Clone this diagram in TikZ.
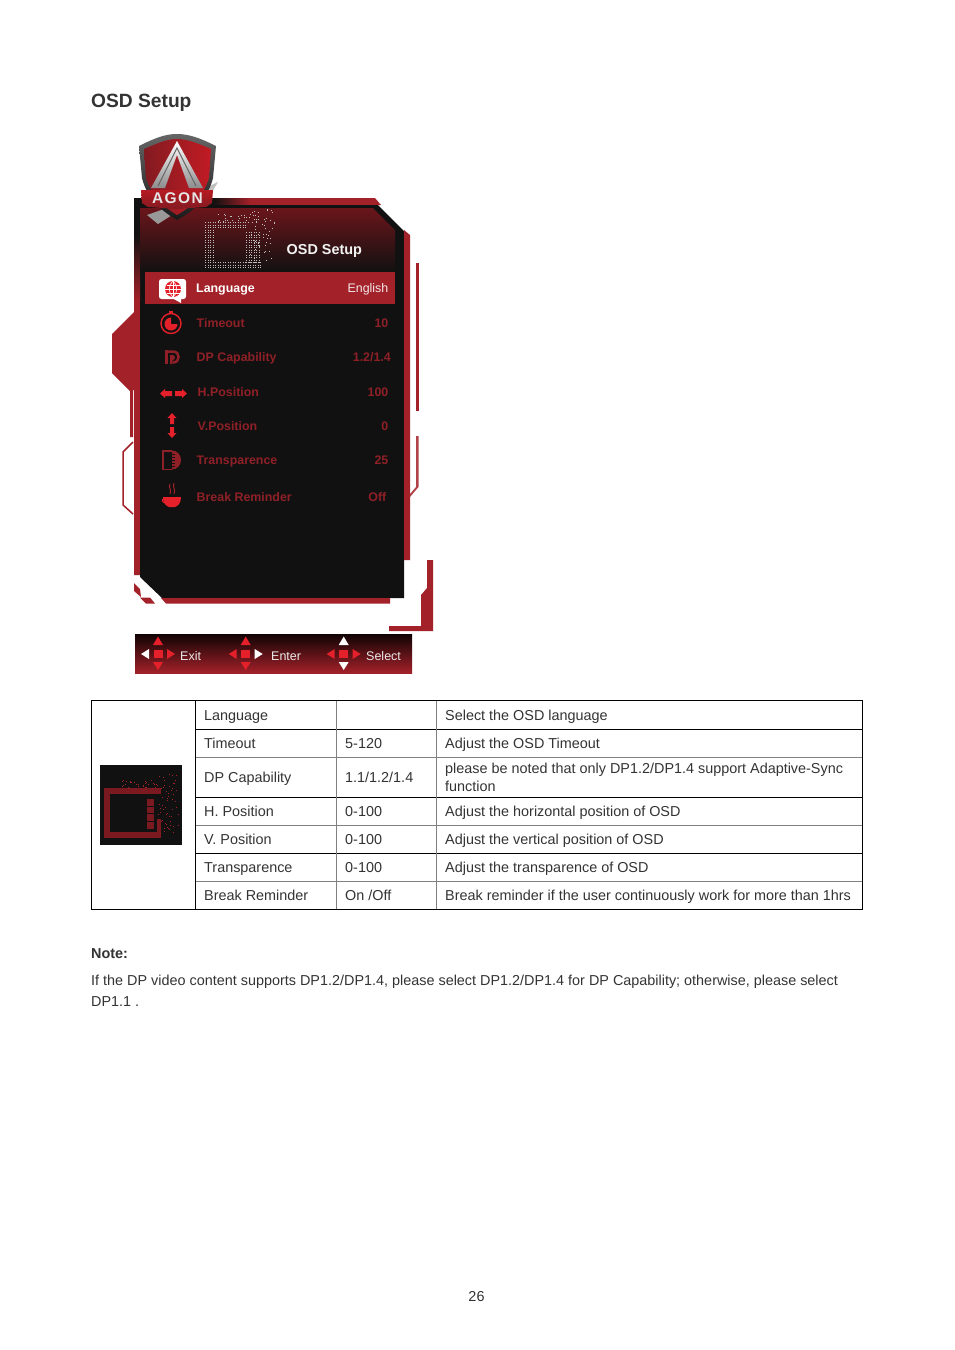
\documentclass[tikz,border=0pt]{standalone}
\usepackage{fontspec}
\setmainfont{Liberation Sans}
\newfontfamily\agonfont[LetterSpace=9]{Liberation Sans}
\usepackage{color}

\definecolor{osdred}{HTML}{A32129}
\definecolor{osdblack}{HTML}{111111}
\definecolor{menured}{HTML}{8F2027}
\definecolor{iconred}{HTML}{E4202A}
\definecolor{texgray}{HTML}{333333}

\tikzset{
  bodytext/.style={anchor=base west,inner sep=0pt,text=texgray,font=\fontsize{14.4}{17}\selectfont},
  titletext/.style={anchor=base west,inner sep=0pt,text=texgray,font=\fontsize{19.2}{22}\selectfont\bfseries},
  notetext/.style={anchor=base west,inner sep=0pt,text=texgray,font=\fontsize{14.4}{17}\selectfont\bfseries},
  menuitem/.style={anchor=base west,inner sep=0pt,text=menured,font=\fontsize{12.4}{14}\selectfont\bfseries},
  menuvalue/.style={anchor=base east,inner sep=0pt,text=menured,font=\fontsize{12.4}{14}\selectfont\bfseries},
  keytext/.style={anchor=base west,inner sep=0pt,text=white!92!black,font=\fontsize{12.5}{15}\selectfont},
  tableline/.style={draw=black,line width=0.9pt},
  tablegray/.style={draw=gray,line width=0.9pt},
}

% block of small square dots
\newcommand{\dotblock}[7]{%
  \foreach \dx in {#1,\the\numexpr#1+#5\relax,...,#3}
    \foreach \dy in {#2,\the\numexpr#2+#5\relax,...,#4}
      \fill[#6] (\dx*0.1,\dy*0.1) rectangle ++(#7,#7);
}

% four arrow keys round a square
\newcommand{\keypad}[5]{%
  \fill[iconred] (#1-4.5,#2-4.5) rectangle (#1+4.5,#2+4);
  \fill[#3] (#1,#2-17.5) -- (#1+5,#2-9) -- (#1-5,#2-9) -- cycle;
  \fill[#3] (#1,#2+16) -- (#1+5,#2+8) -- (#1-5,#2+8) -- cycle;
  \fill[#4] (#1-17,#2) -- (#1-9,#2-5) -- (#1-9,#2+5) -- cycle;
  \fill[#5] (#1+17,#2) -- (#1+9,#2-5) -- (#1+9,#2+5) -- cycle;
}

\begin{document}
\begin{tikzpicture}[x=1pt,y=-1pt]
  \useasboundingbox (0,0) rectangle (954,1350);

  \draw (91,107) node[titletext] (title) {OSD Setup};

  % frame round the menu
  \fill[osdred] (134,312) -- (112,334) -- (112,373) -- (130,391) -- (130,437) -- (133,437) -- (133,390) -- (134,390) -- cycle;
  \draw[osdred,line width=1.5pt] (133,442) -- (123,452) -- (123,505) -- (133,514);
  \fill[osdred] (416,263) rectangle (419,411);
  \fill[osdred!85!white] (416,436) -- (418.5,436) -- (418.5,487) -- (410,497) -- (410,494) -- (416,487) -- cycle;
  \fill[osdred] (427,560) -- (433,560) -- (433,631) -- (389,631) -- (389,626) -- (421,626) -- (421,595) -- (427,588) -- cycle;
  \fill[osdred] (250,198) -- (375,198) -- (381,205) -- (250,205) -- cycle;
  \shade[left color=osdblack,right color=osdred] (213,198) rectangle (250,205);
  \fill[osdblack] (134,198) -- (213,198) -- (213,205) -- (378,205) -- (404,231) -- (404,598) -- (162,598) -- (140,577) -- (140,575) -- (134,575) -- cycle;
  \shade[top color=osdblack,bottom color=osdred] (134,235) rectangle (140,300);
  \fill[osdred] (134,300) rectangle (140,575);
  \fill[osdred] (404,230) -- (410,235) -- (410,560) -- (404,560) -- cycle;
  \fill[osdred] (161,598) -- (390,598) -- (390,603.5) -- (166,603.5) -- cycle;
  \fill[osdred] (134,583) -- (140,589) -- (141,597) -- (134,591) -- cycle;
  \fill[osdred] (140,597.5) -- (150,597.5) -- (155,603.5) -- (146,603.5) -- cycle;
  \shade[top color=osdred!65!black,bottom color=osdblack] (140,208) -- (373,208) -- (395,230) -- (395,272) -- (140,272) -- cycle;
  \fill[osdred] (145,272) rectangle (395,304);

  % shield
  \fill[black!25] (207,187) -- (218,182) -- (212,192) -- cycle;
  \fill[black!40] (147,215) -- (167,208) -- (172,215) -- (158,224) -- cycle;
  \shade[top color=black!60,bottom color=black!90] (139,146) .. controls (155,138) and (165,134) .. (177,134) .. controls (189,134) and (200,138) .. (216,146) -- (213,178) .. controls (208,198) and (195,210) .. (177,220) .. controls (160,210) and (147,198) .. (142,178) -- cycle;
  \shade[left color=osdred!80!black,right color=iconred!85!black] (144,149) .. controls (158,143) and (167,139) .. (177,139) .. controls (187,139) and (197,143) .. (211,149) -- (209,178) .. controls (204,194) and (193,206) .. (177,215) .. controls (162,206) and (151,194) .. (146,178) -- cycle;
  \shade[top color=white,bottom color=black!45] (177,141) -- (203,188) -- (189,188) -- (177,155) -- (165,188) -- (151,188) -- cycle;
  \draw[black!60,line width=1pt] (158,186) -- (177,148) -- (196,186);
  \shade[top color=iconred!80!black,bottom color=osdred!80!black] (141,190) -- (213,190) -- (212,203) -- (206,207) -- (177,209) -- (148,207) -- (142,203) -- cycle;
  \draw (177.5,203) node[anchor=base,inner sep=0pt,text=white!90!black,font=\fontsize{15.5}{17}\selectfont\agonfont\bfseries] (agon) {AGON};

  % dotted OSD picture
  \dotblock{2050}{2220}{2450}{2270}{25}{white!75!black}{1.2}
  \dotblock{2050}{2620}{2600}{2670}{25}{white!75!black}{1.2}
  \dotblock{2050}{2270}{2130}{2620}{25}{white!75!black}{1.2}
  \dotblock{2460}{2320}{2590}{2620}{25}{white!75!black}{1.2}
  \pgfmathsetseed{11}
  \foreach \i in {1,...,60} {
    \pgfmathsetmacro\sx{250+25*rnd}
    \pgfmathsetmacro\sy{208+55*rnd}
    \fill[white!75!black] (\sx,\sy) rectangle ++(1,1);
  }
  \foreach \i in {1,...,25} {
    \pgfmathsetmacro\sx{218+35*rnd}
    \pgfmathsetmacro\sy{214+8*rnd}
    \fill[white!75!black] (\sx,\sy) rectangle ++(1,1);
  }
  \draw (286.5,254) node[anchor=base west,inner sep=0pt,text=white!95!black,font=\fontsize{14.4}{17}\selectfont\bfseries] (osdhead) {OSD Setup};

  % menu lines
  \draw (196,292) node[menuitem,text=white] (language) {Language};
  \draw (388.5,292) node[menuvalue,text=white!90!osdred,font=\fontsize{12.4}{14}\selectfont] (english) {English};
  \draw (196.5,327) node[menuitem] (timeout) {Timeout};
  \draw (388.5,327) node[menuvalue] (timeoutval) {10};
  \draw (196.5,361) node[menuitem] (dpcap) {DP Capability};
  \draw (391,361) node[menuvalue] (dpcapval) {1.2/1.4};
  \draw (197.5,396) node[menuitem] (hpos) {H.Position};
  \draw (388.5,396) node[menuvalue] (hposval) {100};
  \draw (197.5,430) node[menuitem] (vpos) {V.Position};
  \draw (388.5,430) node[menuvalue] (vposval) {0};
  \draw (196.5,464) node[menuitem] (transp) {Transparence};
  \draw (388.5,464) node[menuvalue] (transpval) {25};
  \draw (196.5,501) node[menuitem] (breakrem) {Break Reminder};
  \draw (386.5,501) node[menuvalue] (breakval) {Off};

  % menu icons
  \fill[white,rounded corners=2.5pt] (159,279) rectangle (186,299);
  \fill[white] (172,298) -- (181,303) -- (181,298) -- cycle;
  \fill[iconred] (173,289) circle (8);
  \scope[white,line width=0.6pt]
    \draw (173,281) -- (173,297) (165,289) -- (181,289) (166.5,285) -- (179.5,285) (166.5,293) -- (179.5,293);
    \draw (173,281) .. controls (168,285) and (168,293) .. (173,297);
    \draw (173,281) .. controls (178,285) and (178,293) .. (173,297);
  \endscope

  \draw[iconred,line width=1.4pt] (171,323.5) circle (10);
  \fill[iconred] (169,311) rectangle (173,312.5);
  \fill[iconred] (171,324) -- (171,317.5) arc (-90:-360:6.5) -- cycle;

  \fill[menured] (165,350) rectangle (168,364);
  \draw[menured,line width=2.5pt] (166,351.5) -- (173,351.5) .. controls (180.5,351.5) and (180.5,362.5) .. (173,362.5);
  \fill[menured] (170,355) -- (173,355) .. controls (175.5,355) and (175.5,360) .. (173,360) -- (172.5,360) -- (172.5,364) -- (170,364) -- cycle;

  \fill[iconred] (160,393.5) -- (165,389) -- (165,391) -- (172,391) -- (172,396) -- (165,396) -- (165,398) -- cycle;
  \fill[iconred] (187,393.5) -- (182,389) -- (182,391) -- (175,391) -- (175,396) -- (182,396) -- (182,398) -- cycle;
  \fill[iconred] (172,413) -- (176.5,418) -- (174,418) -- (174,424) -- (170,424) -- (170,418) -- (167.5,418) -- cycle;
  \fill[iconred] (172,438) -- (176.5,433) -- (174,433) -- (174,427) -- (170,427) -- (170,433) -- (167.5,433) -- cycle;

  \draw[menured,line width=1.4pt] (172,451) -- (163,451) -- (163,469.5) -- (172,469.5);
  \fill[menured] (172,450.5) arc (-90:90:9 and 9.5) -- cycle;
  \foreach \ly in {454,457,460,463,466}
    \draw[osdblack,line width=0.6pt] (169,\ly) -- (175,\ly);

  \fill[iconred] (163,497) -- (181,497) .. controls (181,503) and (178,506) .. (175,507) -- (169,507) .. controls (166,506) and (163,503) .. cycle;
  \draw[iconred,line width=1pt] (164,499) .. controls (161,499) and (162,503) .. (166,503);
  \draw[osdred,line width=1pt] (170,484) .. controls (168,488) and (172,489) .. (170,494);
  \draw[osdred,line width=1pt] (174,483) .. controls (172,487) and (176,489) .. (174,494);

  % key bar
  \shade[top color=black!90!osdred,bottom color=osdred] (135,634) rectangle (412,673);
  \keypad{158}{654}{iconred}{white}{iconred}
  \keypad{245.7}{654}{iconred}{iconred}{white}
  \keypad{343.7}{654}{white}{iconred}{iconred}
  \draw (180,660) node[keytext] (keyexit) {Exit};
  \draw (271,660) node[keytext] (keyenter) {Enter};
  \draw (366,660) node[keytext] (keyselect) {Select};

  % table
  \foreach \ty/\tcol in {729.3/black,757.3/gray,797.3/black,825.3/gray,853.3/black,881.3/gray}
    \draw[\tcol,line width=0.9pt] (195.5,\ty) -- (862.5,\ty);
  \draw[tablegray] (336.5,700.5) -- (336.5,909.5);
  \draw[tablegray] (436.5,700.5) -- (436.5,909.5);
  \draw[tableline] (195.5,700.5) -- (195.5,909.5);
  \draw[tableline] (91.5,700.5) rectangle (862.5,909.5);

  \fill[osdblack] (100,765) rectangle (182,845);
  \dotblock{1040}{7880}{1600}{7930}{14}{osdred!75!black}{1.3}
  \dotblock{1040}{8320}{1600}{8370}{14}{osdred!75!black}{1.3}
  \dotblock{1040}{7930}{1090}{8320}{14}{osdred!75!black}{1.3}
  \dotblock{1470}{7990}{1530}{8050}{14}{osdred!75!black}{1.3}
  \dotblock{1470}{8070}{1530}{8120}{14}{osdred!75!black}{1.3}
  \dotblock{1470}{8140}{1530}{8200}{14}{osdred!75!black}{1.3}
  \dotblock{1470}{8220}{1530}{8280}{14}{osdred!75!black}{1.3}
  \dotblock{1570}{8190}{1610}{8320}{14}{osdred!75!black}{1.3}
  \pgfmathsetseed{5}
  \foreach \i in {1,...,55} {
    \pgfmathsetmacro\sx{158+20*rnd}
    \pgfmathsetmacro\sy{773+60*rnd}
    \fill[osdred] (\sx,\sy) rectangle ++(0.9,0.9);
  }
  \foreach \i in {1,...,30} {
    \pgfmathsetmacro\sx{120+38*rnd}
    \pgfmathsetmacro\sy{779+9*rnd}
    \fill[osdred] (\sx,\sy) rectangle ++(0.9,0.9);
  }

  \draw (204,720) node[bodytext] (rowa) {Language};
  \draw (445,720) node[bodytext] (rowc) {Select the OSD language};
  \draw (204,748) node[bodytext] (rowd) {Timeout};
  \draw (345,748) node[bodytext] (rowe) {5-120};
  \draw (445,748) node[bodytext] (rowf) {Adjust the OSD Timeout};
  \draw (204,782) node[bodytext] (rowg) {DP Capability};
  \draw (345,782) node[bodytext] (rowh) {1.1/1.2/1.4};
  \draw (445,773) node[bodytext] (rowi) {please be noted that only DP1.2/DP1.4 support Adaptive-Sync};
  \draw (445,791) node[bodytext] (rowj) {function};
  \draw (204,816) node[bodytext] (rowk) {H. Position};
  \draw (345,816) node[bodytext] (rowl) {0-100};
  \draw (445,816) node[bodytext] (rowm) {Adjust the horizontal position of OSD};
  \draw (204,844) node[bodytext] (rown) {V. Position};
  \draw (345,844) node[bodytext] (rowo) {0-100};
  \draw (445,844) node[bodytext] (rowp) {Adjust the vertical position of OSD};
  \draw (204,872) node[bodytext] (rowq) {Transparence};
  \draw (345,872) node[bodytext] (rowr) {0-100};
  \draw (445,872) node[bodytext] (rows) {Adjust the transparence of OSD};
  \draw (204,900) node[bodytext] (rowt) {Break Reminder};
  \draw (345,900) node[bodytext] (rowu) {On /Off};
  \draw (445,900) node[bodytext] (rowv) {Break reminder if the user continuously work for more than 1hrs};

  \draw (91,958) node[notetext] (notehead) {Note:};
  \draw (91,985) node[bodytext] (notea) {If the DP video content supports DP1.2/DP1.4, please select DP1.2/DP1.4 for DP Capability; otherwise, please select};
  \draw (91,1006) node[bodytext] (noteb) {DP1.1 .};
  \draw (476.5,1301) node[bodytext,anchor=base] (pagenum) {26};
\end{tikzpicture}
\end{document}
